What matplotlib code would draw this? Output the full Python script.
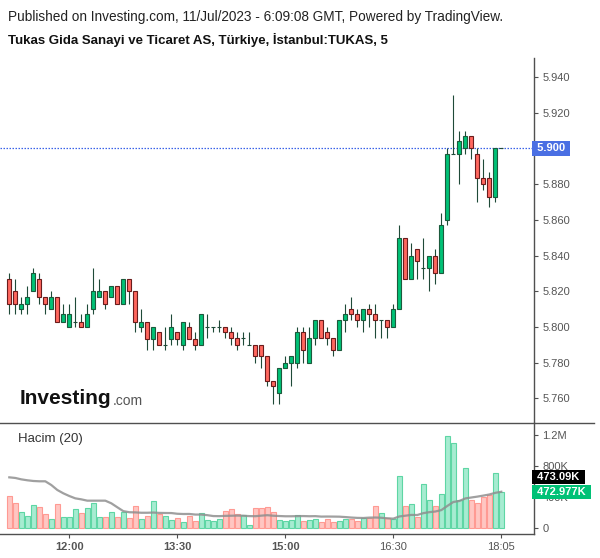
import numpy as np
import pandas as pd
import matplotlib
matplotlib.use("Agg")
import matplotlib.pyplot as plt
import matplotlib.transforms as mtransforms
from matplotlib.lines import Line2D

plt.rcParams['font.family'] = ['Liberation Sans', 'DejaVu Sans']

# 5 dakikalik mumlar, 11:10 - 17:55 + kapanis seansi 18:05
times = pd.date_range('2023-07-11 11:10', periods=82, freq='5min').strftime('%H:%M').tolist() + ['18:05']

opens = [5.827, 5.820, 5.810, 5.813, 5.820, 5.827, 5.817, 5.810, 5.817, 5.803,
         5.800, 5.803, 5.803, 5.800, 5.810, 5.817, 5.820, 5.817, 5.823, 5.813,
         5.827, 5.820, 5.800, 5.803, 5.793, 5.797, 5.790, 5.793, 5.797, 5.790,
         5.800, 5.793, 5.790, 5.800, 5.800, 5.800, 5.800, 5.797, 5.794, 5.794,
         5.790, 5.790, 5.790, 5.784, 5.770, 5.763, 5.777, 5.780, 5.780, 5.797,
         5.780, 5.794, 5.804, 5.797, 5.794, 5.787, 5.804, 5.810, 5.807, 5.804,
         5.810, 5.807, 5.804, 5.804, 5.800, 5.810, 5.850, 5.827, 5.8435, 5.833,
         5.833, 5.840, 5.830, 5.860, 5.897, 5.897, 5.900, 5.907, 5.897, 5.8835,
         5.8835, 5.873, 5.900]
highs = [5.830, 5.827, 5.817, 5.823, 5.833, 5.830, 5.817, 5.820, 5.817, 5.813,
         5.813, 5.817, 5.807, 5.813, 5.833, 5.827, 5.820, 5.823, 5.823, 5.827,
         5.827, 5.820, 5.810, 5.803, 5.800, 5.797, 5.800, 5.807, 5.797, 5.803,
         5.803, 5.797, 5.807, 5.807, 5.800, 5.804, 5.800, 5.800, 5.797, 5.797,
         5.797, 5.790, 5.790, 5.784, 5.770, 5.777, 5.784, 5.784, 5.800, 5.800,
         5.800, 5.804, 5.804, 5.800, 5.794, 5.804, 5.813, 5.817, 5.810, 5.810,
         5.813, 5.813, 5.804, 5.804, 5.813, 5.857, 5.850, 5.847, 5.8435, 5.850,
         5.840, 5.8435, 5.864, 5.900, 5.930, 5.910, 5.910, 5.907, 5.900, 5.894,
         5.887, 5.900, 5.900]
lows = [5.807, 5.807, 5.807, 5.807, 5.820, 5.813, 5.807, 5.810, 5.803, 5.803,
        5.800, 5.800, 5.800, 5.800, 5.807, 5.817, 5.810, 5.817, 5.813, 5.813,
        5.813, 5.797, 5.797, 5.787, 5.787, 5.790, 5.787, 5.790, 5.790, 5.787,
        5.793, 5.787, 5.790, 5.794, 5.797, 5.797, 5.794, 5.790, 5.787, 5.790,
        5.790, 5.780, 5.777, 5.767, 5.757, 5.757, 5.777, 5.767, 5.777, 5.780,
        5.780, 5.790, 5.794, 5.790, 5.784, 5.787, 5.797, 5.804, 5.800, 5.797,
        5.800, 5.794, 5.794, 5.794, 5.800, 5.810, 5.827, 5.827, 5.827, 5.827,
        5.820, 5.824, 5.830, 5.857, 5.897, 5.880, 5.897, 5.894, 5.870, 5.877,
        5.867, 5.870, 5.900]
closes = [5.813, 5.813, 5.813, 5.817, 5.830, 5.817, 5.813, 5.817, 5.803, 5.807,
          5.807, 5.803, 5.800, 5.807, 5.820, 5.820, 5.813, 5.823, 5.813, 5.827,
          5.820, 5.803, 5.803, 5.793, 5.800, 5.790, 5.790, 5.800, 5.793, 5.803,
          5.793, 5.790, 5.807, 5.800, 5.800, 5.800, 5.797, 5.794, 5.790, 5.794,
          5.790, 5.784, 5.784, 5.770, 5.767, 5.777, 5.780, 5.784, 5.797, 5.787,
          5.794, 5.804, 5.794, 5.794, 5.787, 5.804, 5.807, 5.807, 5.804, 5.810,
          5.807, 5.804, 5.804, 5.800, 5.810, 5.850, 5.827, 5.840, 5.837, 5.833,
          5.840, 5.830, 5.857, 5.897, 5.897, 5.904, 5.907, 5.900, 5.8835, 5.880,
          5.873, 5.900, 5.900]

# hacim (bin adet)
volumes = [415, 325, 213, 157, 300, 273, 183, 119, 312, 145,
           145, 248, 196, 261, 325, 145, 145, 213, 145, 213,
           132, 286, 119, 157, 351, 183, 157, 106, 132, 80,
           157, 93, 196, 106, 93, 119, 222, 248, 183, 170,
           41, 261, 261, 273, 213, 106, 93, 106, 170, 97,
           110, 118, 80, 122, 80, 97, 122, 122, 97, 140,
           140, 286, 196, 140, 118, 673, 286, 312, 145, 574,
           364, 286, 441, 1194, 1099, 364, 777, 364, 325, 403,
           428, 712, 473.09]
# grafigin basindaki hareketli ortalama (onceki mumlar gorunmuyor)
ma_start = [660, 652, 634, 622, 613, 609, 609, 561, 497, 454,
            419, 389, 376, 359, 359, 359, 359, 325, 274]

price_ticks = [5.76, 5.78, 5.80, 5.82, 5.84, 5.86, 5.88, 5.90, 5.92, 5.94]
vol_ticks = [0, 400, 800, 1200]
vol_tick_labels = ['0', '400K', '800K', '1.2M']
time_labels = ['12:00', '13:30', '15:00', '16:30', '18:05']
last_price = 5.900
ma_last = 472.977

o = np.array(opens); h = np.array(highs); l = np.array(lows); c = np.array(closes)
v = np.array(volumes)
x = np.arange(len(o))
up = c >= o

ma = pd.Series(v).rolling(20).mean().to_numpy()
ma[:len(ma_start)] = ma_start

W, H = 600, 558
fig = plt.figure(figsize=(6, 5.58), dpi=100)
fig.patch.set_facecolor('white')

def px_box(x0, y0, x1, y1):
    return [x0 / W, 1 - y1 / H, (x1 - x0) / W, (y1 - y0) / H]

ax_p = fig.add_axes(px_box(0, 58, 534, 423))
ax_v = fig.add_axes(px_box(0, 423, 534, 534))

axcol = '#505050'
txtcol = '#555555'
xmin, xmax = -1.55, 87.45

# mumlar
wick_col = '#1f4a38'
ax_p.vlines(x, l, h, color=wick_col, linewidth=0.8, zorder=2)
body_fc = np.where(up, '#00c176', '#ff675e')
body_ec = np.where(up, '#1c5a3c', '#6a1c1c')
body_ec = np.where(o == c, wick_col, body_ec)
ax_p.bar(x, np.abs(c - o), bottom=np.minimum(o, c), width=0.72,
         color=body_fc, edgecolor=body_ec, linewidth=0.8, zorder=3)

ax_p.axhline(last_price, color='#3a62e8', linestyle=(0, (1.2, 1.2)), linewidth=0.9, zorder=1)

ax_p.set_xlim(xmin, xmax)
ax_p.set_ylim(5.7462, 5.9507)
ax_p.yaxis.tick_right()
ax_p.set_yticks(price_ticks)
# 5.900 etiketi son fiyat kutusunun altinda kaliyor
ax_p.set_yticklabels(['' if abs(t - last_price) < 1e-9 else f'{t:.3f}' for t in price_ticks])
ax_p.tick_params(axis='y', colors=axcol, labelcolor=txtcol, labelsize=8, length=3, width=0.8, pad=3)
ax_p.set_xticks([])
for s in ['top', 'left', 'bottom']:
    ax_p.spines[s].set_visible(False)
ax_p.spines['right'].set_color(axcol)
ax_p.spines['right'].set_linewidth(1)

trans_p = mtransforms.blended_transform_factory(ax_p.transAxes, ax_p.transData)
ax_p.text(1.0, last_price, ' 5.900 ', transform=trans_p, ha='left', va='center',
          color='white', fontsize=8, fontweight='bold', zorder=10,
          bbox=dict(boxstyle='square,pad=0.2', fc='#4a6fe3', ec='none'))

# Investing.com logosu
ax_p.text(0.037, 0.04, 'Investing', transform=ax_p.transAxes, fontsize=15,
          fontweight='bold', color='#111111', ha='left', va='bottom')
ax_p.text(0.212, 0.04, '.com', transform=ax_p.transAxes, fontsize=10,
          color='#555555', ha='left', va='bottom')

# hacim paneli
vol_fc = np.where(up, '#a6ecd1', '#ffc6c2')
vol_ec = np.where(up, '#5ed6a4', '#ff9a93')
ax_v.bar(x, v, width=0.85, color=vol_fc, edgecolor=vol_ec, linewidth=0.8, zorder=2)
ax_v.plot(x, ma, color='#8f8f8f', alpha=0.85, linewidth=1.6, zorder=3)

ax_v.set_xlim(xmin, xmax)
ax_v.set_ylim(-71, 1361)
ax_v.yaxis.tick_right()
ax_v.set_yticks(vol_ticks)
ax_v.set_yticklabels(vol_tick_labels)
ax_v.tick_params(axis='y', colors=axcol, labelcolor=txtcol, labelsize=8, length=3, width=0.8, pad=3)
ax_v.set_xticks([times.index(t) for t in time_labels])
ax_v.set_xticklabels(time_labels)
ax_v.tick_params(axis='x', colors=axcol, labelcolor=txtcol, labelsize=8, length=3, width=0.8, pad=3)
for lab in ax_v.get_xticklabels()[:3]:
    lab.set_fontweight('bold')
for s in ['top', 'left']:
    ax_v.spines[s].set_visible(False)
for s in ['right', 'bottom']:
    ax_v.spines[s].set_color(axcol)
    ax_v.spines[s].set_linewidth(1)

ax_v.text(0.034, 0.86, 'Hacim (20)', transform=ax_v.transAxes, fontsize=9.5,
          color='#333333', ha='left', va='center')

trans_v = mtransforms.blended_transform_factory(ax_v.transAxes, ax_v.transData)
ax_v.text(1.0, ma_last, ' 472.977K ', transform=trans_v, ha='left', va='center',
          color='white', fontsize=8, fontweight='bold', zorder=10,
          bbox=dict(boxstyle='square,pad=0.2', fc='#00c176', ec='none'))
black_tr = mtransforms.offset_copy(trans_v, fig=fig, y=15, units='dots')
ax_v.text(1.0, volumes[-1], ' 473.09K ', transform=black_tr, ha='left', va='center',
          color='white', fontsize=8, fontweight='bold', zorder=10,
          bbox=dict(boxstyle='square,pad=0.2', fc='#000000', ec='none'))

# panel ayirici cizgi
fig.add_artist(Line2D([0, 0.99], [1 - 423 / H, 1 - 423 / H], color=axcol, linewidth=1))

fig.text(8 / W, 1 - 17 / H, 'Published on Investing.com, 11/Jul/2023 - 6:09:08 GMT, Powered by TradingView.',
         fontsize=9.8, color='#222222', ha='left', va='center')
fig.text(8 / W, 1 - 40 / H, 'Tukas Gida Sanayi ve Ticaret AS, Türkiye, İstanbul:TUKAS, 5',
         fontsize=9.5, fontweight='bold', color='#111111', ha='left', va='center')

fig.savefig('out.png', dpi=100, facecolor='white')
